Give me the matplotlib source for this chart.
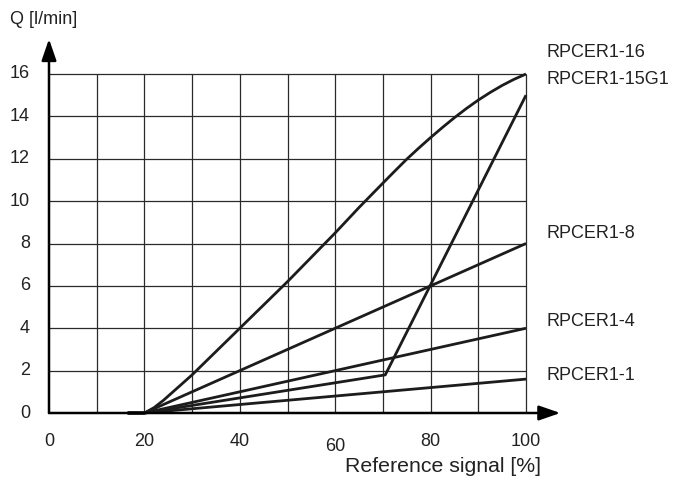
import matplotlib
matplotlib.use("Agg")
import matplotlib.pyplot as plt
import numpy as np

plt.rcParams['font.family'] = ['Liberation Sans', 'DejaVu Sans']

# Data
x_ticks = [0, 20, 40, 60, 80, 100]
y_ticks = [0, 2, 4, 6, 8, 10, 12, 14, 16]

rp1_x = [16.5, 20, 100]
rp1_y = [0, 0, 1.6]
rp4_x = [16.5, 20, 100]
rp4_y = [0, 0, 4.0]
rp8_x = [16.5, 20, 100]
rp8_y = [0, 0, 8.0]
rp15_x = [16.5, 20, 70.5, 100]
rp15_y = [0, 0, 1.8, 15.0]
rp16_x = [16.5, 20, 22, 24, 26, 28, 30, 40, 50, 60, 65, 70, 72.5, 75, 77.5, 80,
          82.5, 85, 87.5, 90, 92.5, 95, 97.5, 100]
rp16_y = [0, 0, 0.25, 0.6, 1.0, 1.4, 1.8, 4.0, 6.2, 8.5, 9.7, 10.85, 11.42, 11.98, 12.5, 13.0,
          13.48, 13.94, 14.37, 14.77, 15.13, 15.46, 15.75, 16.0]

labels = ["RPCER1-16", "RPCER1-15G1", "RPCER1-8", "RPCER1-4", "RPCER1-1"]
label_y = [17.0, 15.75, 8.45, 4.3, 1.75]

fig = plt.figure(figsize=(6.74, 4.79), dpi=100)
ax = fig.add_axes([49/674, (479-413)/479, 477/674, 339/479])
ax.set_xlim(0, 100)
ax.set_ylim(0, 16)
for s in ax.spines.values():
    s.set_visible(False)
ax.set_xticks([])
ax.set_yticks([])

grid_c = '#2a2a2a'
ax.hlines(np.arange(2, 17, 2), 0, 100, color=grid_c, lw=0.9, clip_on=False, zorder=1)
ax.vlines(np.arange(10, 101, 10), 0, 16, color=grid_c, lw=0.9, clip_on=False, zorder=1)

line_c = '#1c1c1c'
for xs, ys in [(rp1_x, rp1_y), (rp4_x, rp4_y), (rp8_x, rp8_y), (rp15_x, rp15_y), (rp16_x, rp16_y)]:
    ax.plot(xs, ys, color=line_c, lw=2.0, solid_capstyle='butt', solid_joinstyle='round',
            clip_on=False, zorder=3)

# axes with arrows
ax.annotate('', xy=(107.2, 0), xytext=(0, 0),
            arrowprops=dict(arrowstyle='-|>,head_length=1.3,head_width=0.45', color='black', lw=1.8,
                            shrinkA=0, shrinkB=0), annotation_clip=False, zorder=4)
ax.annotate('', xy=(0, 17.65), xytext=(0, 0),
            arrowprops=dict(arrowstyle='-|>,head_length=1.3,head_width=0.45', color='black', lw=1.8,
                            shrinkA=0, shrinkB=0), annotation_clip=False, zorder=4)

txt_c = '#222222'
fs = 13
for v in y_ticks:
    ax.text(-4.0, v, str(v), ha='right', va='center', fontsize=fs, color=txt_c)
for v in x_ticks:
    dy = -1.6 if v == 60 else -1.35
    ax.text(v, dy, str(v), ha='center', va='center', fontsize=fs, color=txt_c)

for lab, yy in zip(labels, label_y):
    ax.text(104.2, yy, lab, ha='left', va='center', fontsize=fs, color=txt_c)

fig.text(10/674, 1 - 20/479, 'Q [l/min]', ha='left', va='center', fontsize=fs, color=txt_c)
fig.text(541/674, 1 - 467/479, 'Reference signal [%]', ha='right', va='center', fontsize=15.3, color=txt_c)

fig.savefig('out.png', dpi=100)
